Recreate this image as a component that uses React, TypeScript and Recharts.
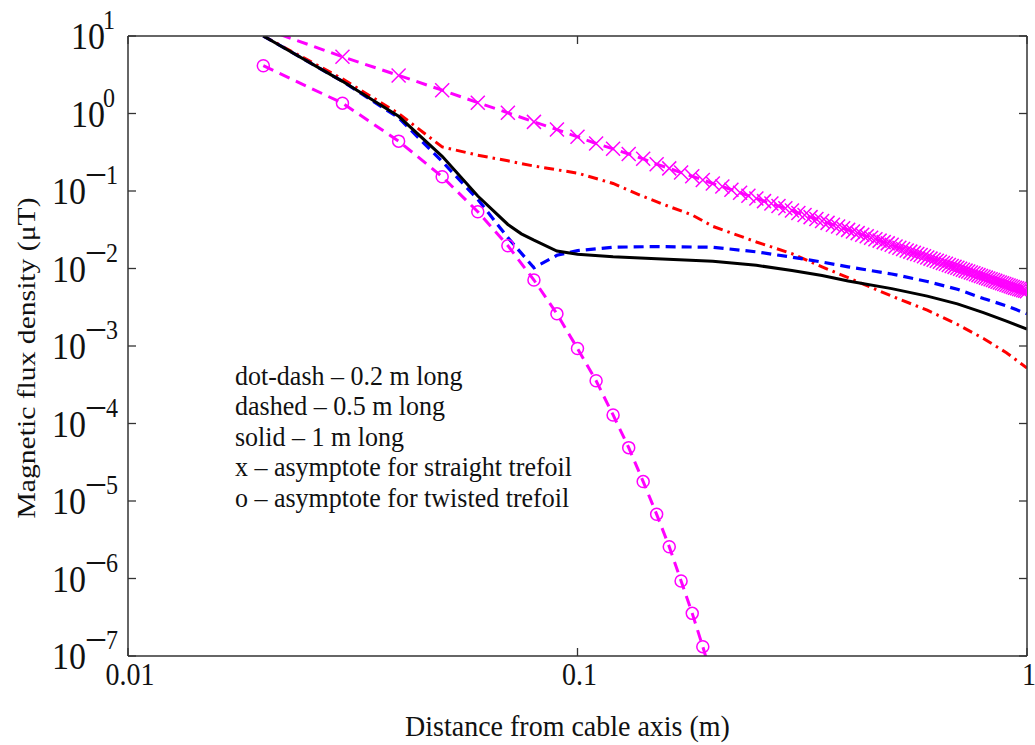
// Magnetic flux density vs distance, log-log line chart
import React from 'react';
import { LineChart, Line, XAxis, YAxis, Label } from 'recharts';

const SERIF = '"Liberation Serif", "Times New Roman", serif';
const AXIS = '#333';
const MAGENTA = '#ff00ff';

// axis ticks
const xTicks = [0.01, 0.1, 1];
const yTicks = [1e-7, 1e-6, 1e-5, 1e-4, 1e-3, 1e-2, 1e-1, 1, 10];

// dot-dash: 0.2 m long
const redX = [0.02, 0.03, 0.04, 0.05, 0.06, 0.07, 0.08, 0.1, 0.12, 0.14, 0.16, 0.18, 0.2, 0.25, 0.3, 0.35, 0.4, 0.5, 0.6, 0.7, 0.8, 0.9, 1.0];
const redY = [10, 2.8, 1.0, 0.37, 0.29, 0.245, 0.21, 0.17, 0.125, 0.085, 0.063, 0.049, 0.035, 0.022, 0.0155, 0.0105, 0.0076, 0.0044, 0.0029, 0.0019, 0.00125, 0.00082, 0.00052];

// dashed: 0.5 m long
const blueX = [0.02, 0.03, 0.04, 0.05, 0.06, 0.07, 0.08, 0.09, 0.1, 0.12, 0.15, 0.2, 0.25, 0.3, 0.35, 0.4, 0.5, 0.6, 0.7, 0.8, 0.9, 1.0];
const blueY = [10, 2.6, 0.88, 0.24, 0.078, 0.025, 0.0102, 0.0148, 0.017, 0.0188, 0.0192, 0.0188, 0.0164, 0.014, 0.0121, 0.0105, 0.0085, 0.0068, 0.0054, 0.0041, 0.0033, 0.0026];

// solid: 1 m long
const blackX = [0.02, 0.03, 0.04, 0.05, 0.06, 0.07, 0.075, 0.08, 0.09, 0.1, 0.12, 0.15, 0.2, 0.25, 0.3, 0.35, 0.4, 0.5, 0.6, 0.7, 0.8, 0.9, 1.0];
const blackY = [10, 2.6, 0.92, 0.28, 0.086, 0.037, 0.028, 0.0232, 0.0168, 0.0153, 0.0142, 0.0134, 0.0124, 0.011, 0.0094, 0.0081, 0.0069, 0.0055, 0.0044, 0.0035, 0.0027, 0.0021, 0.00165];

// x: asymptote for straight trefoil
const straightX = [
  0.02, 0.03, 0.04, 0.05, 0.06, 0.07, 0.08, 0.09, 0.1, 0.11, 0.12, 0.13, 0.14, 0.15, 0.16, 0.17, 0.18, 0.19, 0.2,
  0.21, 0.22, 0.23, 0.24, 0.25, 0.26, 0.27, 0.28, 0.29, 0.3, 0.31, 0.32, 0.33, 0.34, 0.35, 0.36, 0.37, 0.38, 0.39, 0.4,
  0.41, 0.42, 0.43, 0.44, 0.45, 0.46, 0.47, 0.48, 0.49, 0.5, 0.51, 0.52, 0.53, 0.54, 0.55, 0.56, 0.57, 0.58, 0.59, 0.6,
  0.61, 0.62, 0.63, 0.64, 0.65, 0.66, 0.67, 0.68, 0.69, 0.7, 0.71, 0.72, 0.73, 0.74, 0.75, 0.76, 0.77, 0.78, 0.79, 0.8,
  0.81, 0.82, 0.83, 0.84, 0.85, 0.86, 0.87, 0.88, 0.89, 0.9, 0.91, 0.92, 0.93, 0.94, 0.95, 0.96, 0.97, 0.98, 0.99, 1.0,
];
const straightY = [
  12.5, 5.4, 3.1, 2.0, 1.38, 1.02, 0.78, 0.62, 0.5, 0.41, 0.35, 0.3, 0.26, 0.222, 0.196, 0.173, 0.155, 0.139, 0.125,
  0.114, 0.104, 0.095, 0.087, 0.08, 0.074, 0.069, 0.064, 0.06, 0.056, 0.052, 0.049, 0.046, 0.0435, 0.041, 0.0388, 0.0367, 0.0348, 0.0331, 0.0315,
  0.03, 0.0286, 0.0273, 0.026, 0.0249, 0.0239, 0.0229, 0.0219, 0.0211, 0.0202, 0.0192, 0.0185, 0.0178, 0.0171, 0.0165, 0.0159, 0.0154, 0.0149, 0.0144, 0.0139,
  0.0134, 0.013, 0.0126, 0.0122, 0.0118, 0.0115, 0.0111, 0.0108, 0.0105, 0.0102, 0.0099, 0.00965, 0.00938, 0.00913, 0.00889, 0.00866, 0.00843, 0.00822, 0.00801, 0.00781,
  0.00762, 0.00744, 0.00726, 0.00709, 0.00692, 0.00676, 0.00661, 0.00646, 0.00631, 0.00617, 0.00604, 0.00591, 0.00578, 0.00566, 0.00556, 0.00545, 0.00535, 0.00525, 0.00516, 0.00508,
];

// o: asymptote for twisted trefoil
const twistedX = [0.02, 0.03, 0.04, 0.05, 0.06, 0.07, 0.08, 0.09, 0.1, 0.11, 0.12, 0.13, 0.14, 0.15, 0.16, 0.17, 0.18, 0.19, 0.2];
const twistedY = [4.14, 1.36, 0.44, 0.153, 0.054, 0.0197, 0.0071, 0.0026, 9.3e-4, 3.56e-4, 1.29e-4, 4.88e-5, 1.78e-5, 6.73e-6, 2.57e-6, 9.3e-7, 3.55e-7, 1.32e-7, 4.8e-8];

const notes = [
  'dot-dash \u2013 0.2 m long',
  'dashed \u2013 0.5 m long',
  'solid \u2013 1 m long',
  'x \u2013 asymptote for straight trefoil',
  'o \u2013 asymptote for twisted trefoil',
];

const zip = (xs: number[], ys: number[]) => xs.map((x, i) => ({ x, y: ys[i] }));

const redData = zip(redX, redY);
const blueData = zip(blueX, blueY);
const blackData = zip(blackX, blackY);
const straightData = zip(straightX, straightY);
const twistedData = zip(twistedX, twistedY);

const XMark = (props: any) => {
  const { cx, cy } = props;
  if (cx == null || cy == null) return <g />;
  const s = 7;
  return (
    <path
      d={`M${cx - s},${cy - s}L${cx + s},${cy + s}M${cx - s},${cy + s}L${cx + s},${cy - s}`}
      stroke={MAGENTA}
      strokeWidth={1.5}
      fill="none"
    />
  );
};

const OMark = (props: any) => {
  const { cx, cy } = props;
  if (cx == null || cy == null) return <g />;
  return <circle cx={cx} cy={cy} r={6} stroke={MAGENTA} strokeWidth={1.5} fill="none" />;
};

const BottomTick = (props: any) => {
  const { x, y, payload } = props;
  return (
    <g>
      <line x1={x} y1={y} x2={x} y2={y - 8} stroke={AXIS} strokeWidth={1.3} />
      <g transform={`translate(${x},${y}) scale(1,1.12)`}>
        <text x={2} y={26} textAnchor="middle" fontSize={28} fontFamily={SERIF} fill="#111">
          {String(payload.value)}
        </text>
      </g>
    </g>
  );
};

const TopTick = (props: any) => {
  const { x, y } = props;
  return <line x1={x} y1={y} x2={x} y2={y + 8} stroke={AXIS} strokeWidth={1.3} />;
};

// "10" with a raised exponent, one text element per tick
const LeftTick = (props: any) => {
  const { x, y, payload } = props;
  const e = Math.round(Math.log10(payload.value));
  const neg = e < 0;
  return (
    <g>
      <line x1={x} y1={y} x2={x + 8} y2={y} stroke={AXIS} strokeWidth={1.3} />
      <g transform={`translate(${x},${y}) scale(1,1.14)`}>
        <text x={neg ? -76 : -57} y={11.5} fontFamily={SERIF} fill="#111">
          <tspan fontSize={34}>10</tspan>
          {neg ? (
            <>
              <tspan fontSize={36} dx={1} dy={-17.5}>{'\u2013'}</tspan>
              <tspan fontSize={24} dx={1}>{String(-e)}</tspan>
            </>
          ) : (
            <tspan fontSize={24} dx={-2} dy={-17.5}>{String(e)}</tspan>
          )}
        </text>
      </g>
    </g>
  );
};

const RightTick = (props: any) => {
  const { x, y } = props;
  return <line x1={x} y1={y} x2={x - 8} y2={y} stroke={AXIS} strokeWidth={1.3} />;
};

const XTitle = (props: any) => {
  const vb = props.viewBox || { x: 128, y: 656, width: 899 };
  const cx = vb.x + vb.width / 2 - 10;
  return (
    <g transform={`translate(${cx},${vb.y + 80}) scale(1,1.08)`}>
      <text x={0} y={0} textAnchor="middle" fontSize={28} fontFamily={SERIF} fill="#111">
        Distance from cable axis (m)
      </text>
    </g>
  );
};

const YTitle = (props: any) => {
  const vb = props.viewBox || { x: 0, y: 36, height: 620 };
  const cy = vb.y + vb.height / 2 + 12;
  return (
    <g transform={`translate(35,${cy}) scale(1,1.14) rotate(-90)`}>
      <text x={0} y={0} textAnchor="middle" fontSize={26} fontFamily={SERIF} fill="#111">
        Magnetic flux density ({'\u03bc'}T)
      </text>
    </g>
  );
};

export default function App() {
  return (
    <div style={{ position: 'absolute', left: 0, top: 0, width: 1035, height: 745, background: '#fff' }}>
      <LineChart width={1035} height={745} margin={{ top: 0, right: 0, bottom: 0, left: 0 }}>
        <XAxis
          xAxisId="b"
          type="number"
          dataKey="x"
          scale="log"
          domain={[0.01, 1]}
          allowDataOverflow
          ticks={xTicks}
          interval={0}
          height={89}
          tickSize={0}
          tickMargin={0}
          tickLine={false}
          tick={<BottomTick />}
          axisLine={{ stroke: AXIS, strokeWidth: 1.5 }}
        >
          <Label content={<XTitle />} />
        </XAxis>
        <XAxis
          xAxisId="t"
          orientation="top"
          type="number"
          dataKey="x"
          scale="log"
          domain={[0.01, 1]}
          allowDataOverflow
          ticks={xTicks}
          interval={0}
          height={36}
          tickSize={0}
          tickMargin={0}
          tickLine={false}
          tick={<TopTick />}
          axisLine={{ stroke: AXIS, strokeWidth: 1.5 }}
        />
        <YAxis
          yAxisId="l"
          type="number"
          scale="log"
          domain={[1e-7, 10]}
          allowDataOverflow
          ticks={yTicks}
          interval={0}
          width={128}
          tickSize={0}
          tickMargin={0}
          tickLine={false}
          tick={<LeftTick />}
          axisLine={{ stroke: AXIS, strokeWidth: 1.5 }}
        >
          <Label content={<YTitle />} />
        </YAxis>
        <YAxis
          yAxisId="r"
          orientation="right"
          type="number"
          scale="log"
          domain={[1e-7, 10]}
          allowDataOverflow
          ticks={yTicks}
          interval={0}
          width={8}
          tickSize={0}
          tickMargin={0}
          tickLine={false}
          tick={<RightTick />}
          axisLine={{ stroke: AXIS, strokeWidth: 1.5 }}
        />

        <Line xAxisId="b" yAxisId="l" data={redData} dataKey="y" type="linear" stroke="#ff0000" strokeWidth={3}
          strokeDasharray="10 5 2.5 5" dot={false} isAnimationActive={false} />
        <Line xAxisId="b" yAxisId="l" data={blueData} dataKey="y" type="linear" stroke="#0000ff" strokeWidth={3.2}
          strokeDasharray="10 6" dot={false} isAnimationActive={false} />
        <Line xAxisId="b" yAxisId="l" data={blackData} dataKey="y" type="linear" stroke="#000" strokeWidth={3}
          dot={false} isAnimationActive={false} />
        <Line xAxisId="b" yAxisId="l" data={twistedData} dataKey="y" type="linear" stroke={MAGENTA} strokeWidth={3}
          strokeDasharray="11 7" dot={<OMark />} isAnimationActive={false} />
        <Line xAxisId="b" yAxisId="l" data={straightData} dataKey="y" type="linear" stroke={MAGENTA} strokeWidth={3}
          strokeDasharray="11 7" dot={<XMark />} isAnimationActive={false} />
      </LineChart>

      <svg width={1035} height={745} style={{ position: 'absolute', left: 0, top: 0, pointerEvents: 'none' }}>
        <g transform="translate(0,0) scale(1,1.06)">
          {notes.map((t, i) => (
            <text key={t} x={235} y={(385 + i * 30.4) / 1.06} fontSize={26} fontFamily={SERIF} fill="#111">
              {t}
            </text>
          ))}
        </g>
      </svg>
    </div>
  );
}
